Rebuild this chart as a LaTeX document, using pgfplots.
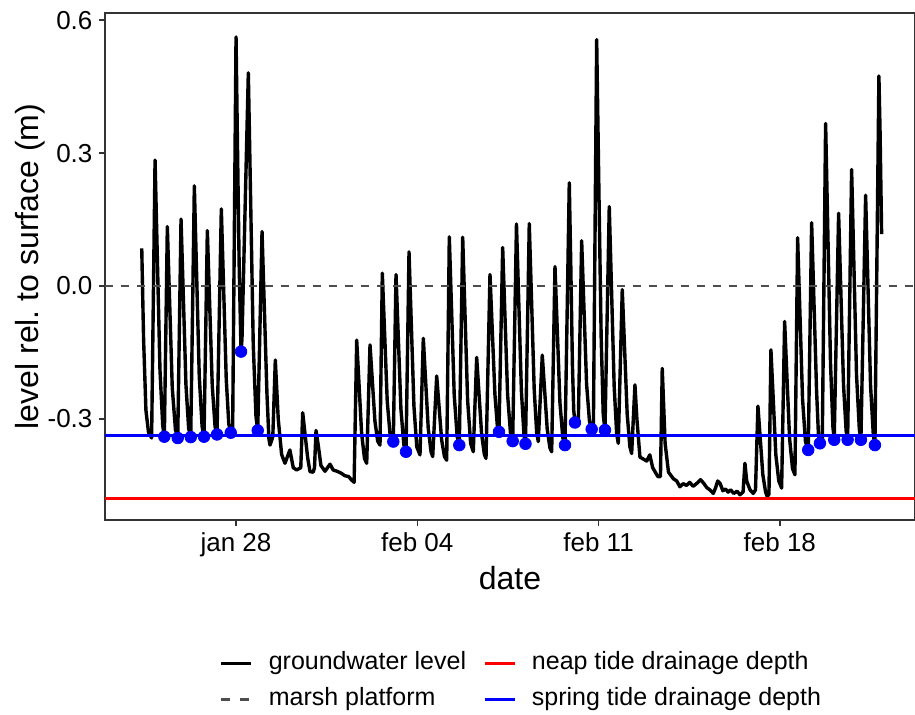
\documentclass[border=0pt]{standalone}
\usepackage{pgfplots}
\pgfplotsset{compat=1.18}
\usepackage{fontspec}
\setmainfont{Liberation Sans}
\definecolor{grey20}{RGB}{51,51,51}
\definecolor{grey30}{RGB}{77,77,77}
\begin{document}
\begin{tikzpicture}
\path[use as bounding box] (0,0) rectangle (457.5pt,357pt);
\begin{axis}[
  at={(52.5pt,97pt)}, anchor=south west,
  width=405pt, height=253.5pt, scale only axis,
  xmin=22.94, xmax=54.22, ymin=-0.528, ymax=0.616,
  axis line style={grey20, line width=0.7pt},
  xtick={28,35,42,49}, xticklabels={jan 28,feb 04,feb 11,feb 18},
  ytick={-0.3,0,0.3,0.6}, yticklabels={-0.3,0.0,0.3,0.6},
  tick align=outside, xtick pos=lower, ytick pos=left,
  major tick length=2.75pt, tick style={grey20, line width=0.7pt},
  ticklabel style={font=\fontsize{13}{15}\selectfont, text=black},
  /pgf/number format/assume math mode=true,
  xlabel={date}, ylabel={level rel.\ to surface (m)},
  label style={font=\fontsize{16}{19}\selectfont},
  xlabel style={at={(axis description cs:0.5,-0.1144)}, anchor=center},
  ylabel style={at={(axis description cs:-0.0926,0.5)}, anchor=center},
  legend columns=2,
  legend cell align=left,
  legend style={at={(axis description cs:0.142,-0.3186)}, anchor=west, draw=none, fill=none,
    inner sep=0pt, outer sep=0pt,
    nodes={inner sep=0pt, text height=9pt, text depth=3pt},
    font=\fontsize{12.5}{15}\selectfont, row sep=6pt,
    /tikz/every odd column/.append style={column sep=8pt},
    /tikz/every even column/.append style={column sep=8.5pt}},
  legend image code/.code={\draw[#1] (0pt,0pt) -- (15pt,0pt);},
  legend entries={groundwater level, neap tide drainage depth, marsh platform, spring tide drainage depth},
]
\addlegendimage{black, line width=1.4pt}
\addlegendimage{red, line width=1.4pt}
\addlegendimage{grey30, line width=1.4pt, dash pattern=on 4.5pt off 5pt}
\addlegendimage{blue, line width=1.4pt}

% groundwater level
\addplot[black, line width=1.7pt, line join=round, forget plot] coordinates {
(24.359,0.085) (24.43,-0.12) (24.52,-0.28) (24.62,-0.33) (24.74,-0.343)
(24.873,0.284) (24.963,0.059) (25.063,-0.190) (25.17,-0.315) (25.232,-0.340)
(25.347,0.134) (25.437,-0.038) (25.537,-0.229) (25.66,-0.324) (25.749,-0.343)
(25.876,0.151) (25.966,-0.026) (26.066,-0.223) (26.17,-0.321) (26.251,-0.341)
(26.390,0.226) (26.48,0.022) (26.58,-0.204) (26.69,-0.317) (26.764,-0.340)
(26.892,0.125) (26.982,-0.041) (27.082,-0.225) (27.19,-0.317) (27.266,-0.335)
(27.432,0.174) (27.522,-0.008) (27.622,-0.210) (27.72,-0.311) (27.795,-0.331) (27.87,-0.32)
(28.000,0.562) (28.06,0.30) (28.12,0.05) (28.193,-0.148) (28.23,-0.12)
(28.475,0.481) (28.565,0.190) (28.665,-0.132) (28.77,-0.294) (28.838,-0.326)
(29.004,0.123) (29.094,-0.051) (29.194,-0.243) (29.27,-0.345) (29.313,-0.359) (29.42,-0.34)
(29.517,-0.167) (29.63,-0.30) (29.76,-0.38) (29.89,-0.40) (30.08,-0.37) (30.21,-0.41) (30.34,-0.415) (30.50,-0.41)
(30.575,-0.286) (30.665,-0.334) (30.765,-0.387) (30.857,-0.419) (30.98,-0.42) (31.03,-0.41)
(31.089,-0.326) (31.179,-0.361) (31.279,-0.405) (31.436,-0.418) (31.629,-0.402) (31.75,-0.415) (31.9,-0.418) (32.05,-0.422) (32.2,-0.428) (32.35,-0.43) (32.45,-0.437) (32.56,-0.443)
(32.660,-0.122) (32.75,-0.222) (32.85,-0.333) (32.96,-0.389) (33.046,-0.40)
(33.174,-0.133) (33.264,-0.214) (33.364,-0.305) (33.47,-0.35) (33.560,-0.359)
(33.649,0.029) (33.739,-0.108) (33.839,-0.260) (33.95,-0.336) (34.073,-0.351)
(34.178,0.026) (34.268,-0.118) (34.368,-0.278) (34.48,-0.358) (34.564,-0.374)
(34.680,0.077) (34.77,-0.088) (34.87,-0.271) (34.98,-0.363) (35.104,-0.381)
(35.232,-0.118) (35.322,-0.214) (35.422,-0.321) (35.53,-0.374) (35.595,-0.385)
(35.749,-0.203) (35.839,-0.271) (35.939,-0.347) (36.05,-0.385) (36.135,-0.393)
(36.236,0.111) (36.326,-0.058) (36.426,-0.246) (36.54,-0.340) (36.622,-0.359)
(36.753,0.110) (36.843,-0.064) (36.943,-0.258) (37.06,-0.355) (37.162,-0.374)
(37.293,-0.161) (37.383,-0.243) (37.483,-0.334) (37.59,-0.38) (37.653,-0.389)
(37.807,0.026) (37.897,-0.102) (37.997,-0.244) (38.09,-0.315) (38.154,-0.329)
(38.297,0.087) (38.387,-0.070) (38.487,-0.245) (38.6,-0.333) (38.683,-0.350)
(38.830,0.140) (38.92,-0.039) (39.02,-0.237) (39.12,-0.336) (39.178,-0.356)
(39.324,0.141) (39.414,-0.036) (39.514,-0.233) (39.61,-0.331) (39.672,-0.351)
(39.826,-0.156) (39.916,-0.234) (40.016,-0.322) (40.12,-0.365) (40.189,-0.374)
(40.317,0.044) (40.407,-0.101) (40.507,-0.262) (40.62,-0.343) (40.703,-0.359)
(40.869,0.233) (40.93,0.038) (40.99,-0.177) (41.04,-0.28) (41.089,-0.308) (41.22,-0.30)
(41.347,0.102) (41.437,-0.051) (41.537,-0.221) (41.65,-0.306) (41.734,-0.323) (41.80,-0.32)
(41.927,0.556) (42.017,0.200) (42.10,-0.114) (42.18,-0.29) (42.247,-0.325)
(42.413,0.179) (42.503,-0.013) (42.603,-0.227) (42.7,-0.334) (42.761,-0.355)
(42.915,-0.008) (43.005,-0.141) (43.105,-0.289) (43.21,-0.363) (43.278,-0.378)
(43.405,-0.223) (43.48,-0.30) (43.598,-0.386) (43.86,-0.395) (43.98,-0.381) (44.09,-0.41) (44.29,-0.43) (44.39,-0.43)
(44.459,-0.186) (44.57,-0.355) (44.70,-0.42) (44.89,-0.435) (45.02,-0.44) (45.14,-0.453) (45.27,-0.446) (45.40,-0.45) (45.52,-0.443) (45.65,-0.452) (45.80,-0.445) (45.94,-0.437) (46.06,-0.445) (46.18,-0.455) (46.30,-0.46) (46.43,-0.468) (46.52,-0.455) (46.60,-0.44) (46.69,-0.445) (46.80,-0.462) (46.90,-0.458) (47.0,-0.465) (47.10,-0.46) (47.22,-0.468) (47.35,-0.463) (47.46,-0.471) (47.58,-0.465)
(47.653,-0.40) (47.72,-0.44) (47.85,-0.46) (47.973,-0.468) (48.06,-0.46)
(48.154,-0.271) (48.244,-0.344) (48.344,-0.426) (48.45,-0.465) (48.514,-0.475) (48.58,-0.47)
(48.656,-0.144) (48.746,-0.256) (48.846,-0.381) (48.96,-0.44) (49.069,-0.456)
(49.185,-0.080) (49.275,-0.205) (49.375,-0.343) (49.49,-0.412) (49.583,-0.426)
(49.687,0.109) (49.777,-0.063) (49.877,-0.255) (49.99,-0.351) (50.097,-0.370)
(50.228,0.143) (50.318,-0.036) (50.418,-0.235) (50.49,-0.335) (50.548,-0.355) (50.64,-0.345)
(50.768,0.367) (50.858,0.110) (50.958,-0.176) (51.05,-0.318) (51.100,-0.347)
(51.270,0.164) (51.36,-0.020) (51.46,-0.224) (51.56,-0.327) (51.618,-0.347)
(51.772,0.263) (51.862,0.043) (51.962,-0.201) (52.07,-0.323) (52.131,-0.347)
(52.313,0.205) (52.403,0.002) (52.503,-0.224) (52.61,-0.336) (52.672,-0.359)
(52.826,0.474) (52.87,0.35) (52.931,0.117)
};

% marsh platform
\addplot[grey30, line width=1.4pt, dash pattern=on 4pt off 4pt, forget plot] coordinates {(22.94,0) (54.22,0)};
% neap tide drainage depth
\addplot[red, line width=1.4pt, forget plot] coordinates {(22.94,-0.479) (54.22,-0.479)};
% spring tide drainage depth
\addplot[blue, line width=1.4pt, forget plot] coordinates {(22.94,-0.338) (54.22,-0.338)};

% drainage points
\addplot[only marks, mark=*, mark size=2.9pt, mark options={fill=blue, draw=blue}, forget plot] coordinates {
(25.232,-0.340) (25.749,-0.343) (26.251,-0.341) (26.764,-0.340) (27.266,-0.335) (27.795,-0.331)
(28.193,-0.148) (28.838,-0.326) (34.073,-0.351) (34.564,-0.374) (36.622,-0.359) (38.154,-0.329)
(38.683,-0.350) (39.178,-0.356) (40.703,-0.359) (41.089,-0.308) (41.734,-0.323) (42.247,-0.325)
(50.097,-0.370) (50.548,-0.355) (51.100,-0.347) (51.618,-0.347) (52.131,-0.347) (52.672,-0.359)
};
\end{axis}
\end{tikzpicture}
\end{document}
